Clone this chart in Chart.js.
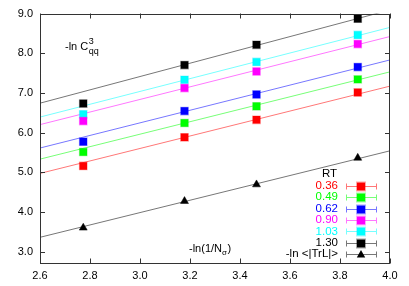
<!DOCTYPE html>
<html><head><meta charset="utf-8">
<script src="https://cdn.jsdelivr.net/npm/chart.js@4/dist/chart.umd.min.js"></script>
<style>html,body{margin:0;padding:0;background:#fff;}canvas{display:block;}</style>
</head><body>
<canvas id="c" width="409" height="286"></canvas>
<script>
const xVals = [2.773, 3.178, 3.466, 3.871];
const rtLabels = ['0.36', '0.49', '0.62', '0.90', '1.03', '1.30'];
const rt036 = [5.16, 5.88, 6.32, 7.01];
const rt049 = [5.51, 6.24, 6.66, 7.34];
const rt062 = [5.77, 6.54, 6.96, 7.65];
const rt090 = [6.29, 7.12, 7.54, 8.23];
const rt103 = [6.46, 7.33, 7.78, 8.46];
const rt130 = [6.73, 7.70, 8.21, 8.87];
const trl = [3.60, 4.27, 4.69, 5.36];
const trlLabel = '-ln <|TrL|>';
const fitX = [2.6, 4.0];
const fit036 = [4.97, 7.17];
const fit049 = [5.33, 7.53];
const fit062 = [5.61, 7.83];
const fit090 = [6.20, 8.42];
const fit103 = [6.39, 8.65];
const fit130 = [6.74, 9.09];
const fitTrl = [3.36, 5.54];
const xTicks = [2.6, 2.8, 3.0, 3.2, 3.4, 3.6, 3.8, 4.0];
const yTicks = [3, 4, 5, 6, 7, 8, 9];

const seriesVals = [rt036, rt049, rt062, rt090, rt103, rt130];
const fitVals = [fit036, fit049, fit062, fit090, fit103, fit130];
const pointColors = ['#ff0000', '#00ff00', '#0000ff', '#ff00ff', '#00ffff', '#000000'];
const haloColors = ['rgba(255,0,0,0.35)', 'rgba(0,230,0,0.35)', 'rgba(0,0,255,0.35)', 'rgba(255,0,255,0.35)', 'rgba(0,230,255,0.35)', 'rgba(0,0,0,0.35)'];
const lineColors = ['#ff7777', '#77ff77', '#7777ff', '#ff77ff', '#77ffff', '#777777'];
const textColors = ['#ff0000', '#00ff00', '#0000ff', '#ff00ff', '#00ffff', '#000000'];

const FONT = '"Liberation Sans", Arial, sans-serif';
const toPts = (xs, ys) => xs.map((x, i) => ({x: x, y: ys[i]}));

const datasets = [];
fitVals.forEach((f, i) => {
  datasets.push({type: 'line', data: toPts(fitX, f), borderColor: lineColors[i], borderWidth: 1,
    pointRadius: 0, fill: false, showLine: true, order: 2});
});
datasets.push({type: 'line', data: toPts(fitX, fitTrl), borderColor: '#777777', borderWidth: 1,
  pointRadius: 0, fill: false, showLine: true, order: 2});
seriesVals.forEach((s, i) => {
  datasets.push({type: 'scatter', data: toPts(xVals, s), pointStyle: 'rect', pointRadius: 5.3,
    backgroundColor: pointColors[i], borderColor: haloColors[i], borderWidth: 1.2, order: 1});
});
datasets.push({type: 'scatter', data: toPts(xVals, trl), pointStyle: 'triangle', pointRadius: 4.6,
  backgroundColor: '#000', borderColor: '#000', borderWidth: 0.5, order: 1});

const decor = {
  id: 'decor',
  afterDraw(chart) {
    const ctx = chart.ctx;
    const a = chart.chartArea;
    const xs = chart.scales.x, ys = chart.scales.y;
    ctx.save();
    // frame
    ctx.strokeStyle = '#333';
    ctx.lineWidth = 1;
    ctx.strokeRect(Math.round(a.left) + 0.5, Math.round(a.top) + 0.5,
      Math.round(a.right - a.left) - 1, Math.round(a.bottom - a.top) - 1);
    // inward ticks
    const tl = 5;
    ctx.beginPath();
    xTicks.forEach(v => {
      const px = Math.round(xs.getPixelForValue(v)) + 0.5;
      ctx.moveTo(px, a.bottom); ctx.lineTo(px, a.bottom - tl);
      ctx.moveTo(px, a.top); ctx.lineTo(px, a.top + tl);
    });
    yTicks.forEach(v => {
      const py = Math.round(ys.getPixelForValue(v)) + 0.5;
      ctx.moveTo(a.left, py); ctx.lineTo(a.left + tl, py);
      ctx.moveTo(a.right, py); ctx.lineTo(a.right - tl, py);
    });
    ctx.stroke();

    // annotation: -ln C_qq^3
    ctx.fillStyle = '#000';
    ctx.textBaseline = 'alphabetic';
    ctx.textAlign = 'left';
    ctx.font = '11px ' + FONT;
    let x0 = 65, y0 = 50;
    ctx.fillText('-ln C', x0, y0);
    let w = ctx.measureText('-ln C').width;
    ctx.font = '9px ' + FONT;
    ctx.fillText('3', x0 + w + 0.5, y0 - 6);
    ctx.fillText('qq', x0 + w + 0.5, y0 + 4);

    // annotation: -ln(1/N_sigma)
    ctx.font = '11px ' + FONT;
    x0 = 189; y0 = 252;
    ctx.fillText('-ln(1/N', x0, y0);
    w = ctx.measureText('-ln(1/N').width;
    ctx.font = '8px ' + FONT;
    ctx.fillText('σ', x0 + w, y0 + 3);
    const ws = ctx.measureText('σ').width;
    ctx.font = '11px ' + FONT;
    ctx.fillText(')', x0 + w + ws + 0.5, y0);

    // legend
    const textRight = 338, sL = 346, sR = 377, sM = 361;
    const rowY = [185.7, 197.2, 208.6, 220.0, 231.4, 242.8, 254.2];
    ctx.textAlign = 'right';
    ctx.textBaseline = 'middle';
    ctx.font = '11.5px ' + FONT;
    ctx.fillStyle = '#000';
    ctx.fillText('RT', textRight - 1, 174);
    const drawSample = (y, lc, pc, hc, tri) => {
      const yy = Math.round(y) + 0.5;
      ctx.strokeStyle = lc; ctx.lineWidth = 1;
      ctx.beginPath();
      ctx.moveTo(sL, yy); ctx.lineTo(sR, yy);
      ctx.moveTo(sL + 0.5, yy - 3); ctx.lineTo(sL + 0.5, yy + 3);
      ctx.moveTo(sR - 0.5, yy - 3); ctx.lineTo(sR - 0.5, yy + 3);
      ctx.stroke();
      ctx.fillStyle = pc;
      if (tri) {
        ctx.beginPath();
        ctx.moveTo(sM, yy - 4.5); ctx.lineTo(sM + 4.2, yy + 3); ctx.lineTo(sM - 4.2, yy + 3);
        ctx.closePath(); ctx.fill();
      } else {
        ctx.fillRect(sM - 4, yy - 4, 8, 8);
        ctx.strokeStyle = hc; ctx.strokeRect(sM - 4.5, yy - 4.5, 9, 9);
      }
    };
    rtLabels.forEach((lab, i) => {
      ctx.fillStyle = textColors[i];
      ctx.font = '11.5px ' + FONT;
      ctx.fillText(lab, textRight, rowY[i]);
      drawSample(rowY[i], lineColors[i], pointColors[i], haloColors[i], false);
    });
    ctx.fillStyle = '#000';
    ctx.font = '11.5px ' + FONT;
    ctx.fillText(trlLabel, textRight, rowY[6]);
    drawSample(rowY[6], '#777777', '#000', '#000', true);
    ctx.restore();
  }
};

new Chart(document.getElementById('c'), {
  data: {datasets: datasets},
  options: {
    responsive: false,
    animation: false,
    devicePixelRatio: 1,
    layout: {padding: {top: 13.5, right: 19, left: 0, bottom: 0}},
    plugins: {legend: {display: false}, tooltip: {enabled: false}},
    scales: {
      x: {
        type: 'linear', min: 2.6, max: 4.0,
        afterFit: s => { s.height = 22.5; s.paddingLeft = 0; s.paddingRight = 0; },
        afterBuildTicks: s => { s.ticks = xTicks.map(v => ({value: v})); },
        grid: {display: false, drawTicks: false},
        border: {display: false},
        ticks: {color: '#000', font: {family: FONT, size: 11}, padding: 6, maxRotation: 0,
          callback: v => v.toFixed(1)}
      },
      y: {
        type: 'linear', min: 2.7, max: 9,
        afterFit: s => { s.width = 40; s.paddingTop = 0; s.paddingBottom = 0; },
        afterBuildTicks: s => { s.ticks = yTicks.map(v => ({value: v})); },
        grid: {display: false, drawTicks: false},
        border: {display: false},
        ticks: {color: '#000', font: {family: FONT, size: 11}, padding: 7,
          callback: v => v.toFixed(1)}
      }
    }
  },
  plugins: [decor]
});
</script>
</body></html>
